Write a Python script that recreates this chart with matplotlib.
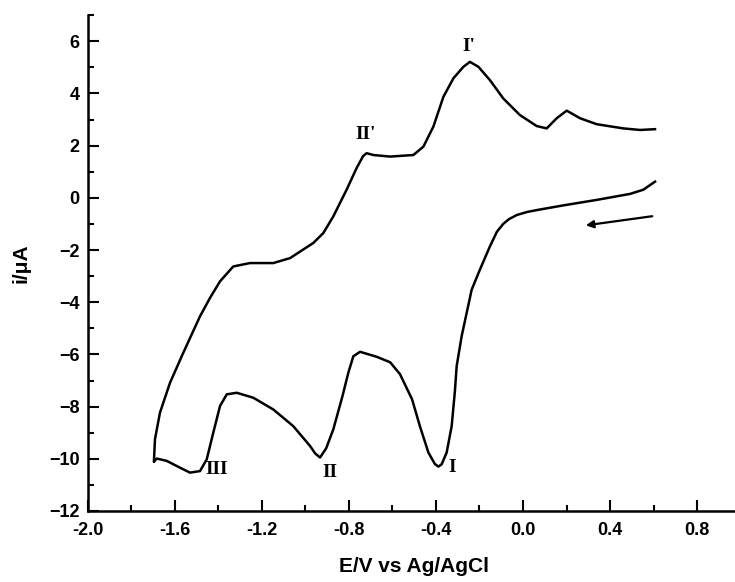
import matplotlib.pyplot as plt
from matplotlib.ticker import MultipleLocator

# cathodic sweep (0.6 V -> -1.7 V)
e_fwd = [0.607, 0.553, 0.492, 0.339, 0.185, 0.07, 0.02, -0.029, -0.065, -0.091,
         -0.12, -0.152, -0.198, -0.236, -0.259, -0.282, -0.305, -0.313, -0.328,
         -0.351, -0.374, -0.389, -0.405, -0.435, -0.474, -0.51, -0.566, -0.611,
         -0.673, -0.749, -0.780, -0.803, -0.830, -0.872, -0.905, -0.933, -0.955,
         -0.979, -1.056, -1.148, -1.240, -1.316, -1.362, -1.393, -1.424, -1.454,
         -1.485, -1.531, -1.577, -1.638, -1.684, -1.697]
i_fwd = [0.62, 0.31, 0.15, -0.08, -0.29, -0.46, -0.54, -0.66, -0.82, -1.0,
         -1.3, -1.86, -2.75, -3.52, -4.41, -5.30, -6.45, -7.4, -8.75,
         -9.76, -10.21, -10.3, -10.2, -9.76, -8.75, -7.72, -6.75, -6.30,
         -6.09, -5.90, -6.07, -6.70, -7.6, -8.87, -9.6, -9.95, -9.8,
         -9.51, -8.75, -8.11, -7.66, -7.47, -7.53, -7.98, -9.00, -10.02,
         -10.47, -10.53, -10.34, -10.08, -9.99, -10.12]

# anodic sweep (-1.7 V -> 0.6 V)
e_rev = [-1.697, -1.694, -1.692, -1.669, -1.623, -1.562, -1.485, -1.44, -1.393,
         -1.332, -1.255, -1.148, -1.071, -0.964, -0.918, -0.872, -0.811, -0.765,
         -0.735, -0.719, -0.688, -0.611, -0.504, -0.458, -0.412, -0.366, -0.320,
         -0.274, -0.244, -0.205, -0.152, -0.091, -0.014, 0.063, 0.109, 0.155,
         0.201, 0.262, 0.339, 0.461, 0.538, 0.607]
i_rev = [-10.12, -9.6, -9.25, -8.23, -7.09, -5.94, -4.54, -3.85, -3.20,
         -2.63, -2.50, -2.50, -2.31, -1.73, -1.35, -0.71, 0.31, 1.14,
         1.60, 1.71, 1.64, 1.58, 1.64, 1.96, 2.73, 3.87, 4.58,
         5.02, 5.21, 5.02, 4.51, 3.81, 3.17, 2.75, 2.66, 3.05,
         3.34, 3.05, 2.82, 2.66, 2.60, 2.63]

peak_labels = ["I'", "II'", "I", "II", "III"]
peak_e = [-0.251, -0.726, -0.328, -0.887, -1.408]
peak_i = [5.79, 2.41, -10.34, -10.53, -10.4]

plt.rcParams['font.family'] = ['Liberation Sans', 'DejaVu Sans']
plt.rcParams['font.weight'] = 'bold'

fig = plt.figure(figsize=(7.35, 5.82), dpi=100)
ax = fig.add_axes([0.1197, 0.122, 0.8878, 0.852])

ax.plot(e_fwd + e_rev, i_fwd + i_rev, color='black', lw=1.8)

for lab, x, y in zip(peak_labels, peak_e, peak_i):
    ax.text(x, y, lab, family='Liberation Serif', fontsize=14, fontweight='bold',
            ha='center', va='center')

# scan direction arrow
ax.annotate('', xy=(0.276, -1.07), xytext=(0.607, -0.69),
            arrowprops=dict(arrowstyle='-|>', color='black', lw=1.6, mutation_scale=11))

ax.set_xlim(-2.0, 1.0)
ax.set_ylim(-12, 7)
ax.xaxis.set_major_locator(MultipleLocator(0.4))
ax.xaxis.set_minor_locator(MultipleLocator(0.2))
ax.yaxis.set_major_locator(MultipleLocator(2))
ax.yaxis.set_minor_locator(MultipleLocator(1))
ax.xaxis.set_major_formatter(lambda v, p: f"{v:.1f}")

ax.spines['top'].set_visible(False)
ax.spines['right'].set_visible(False)
ax.spines['left'].set_linewidth(1.8)
ax.spines['bottom'].set_linewidth(1.8)
ax.tick_params(which='both', direction='in', width=1.5, labelsize=13)
ax.tick_params(which='major', length=8)
ax.tick_params(which='minor', length=4.5)
ax.tick_params(axis='x', pad=8)
ax.tick_params(axis='y', pad=6)

ax.set_xlabel("E/V vs Ag/AgCl", fontsize=15, fontweight='bold', labelpad=13)
ax.set_ylabel("i/μA", fontsize=15, fontweight='bold', labelpad=13)

fig.savefig("out.png", dpi=100)
